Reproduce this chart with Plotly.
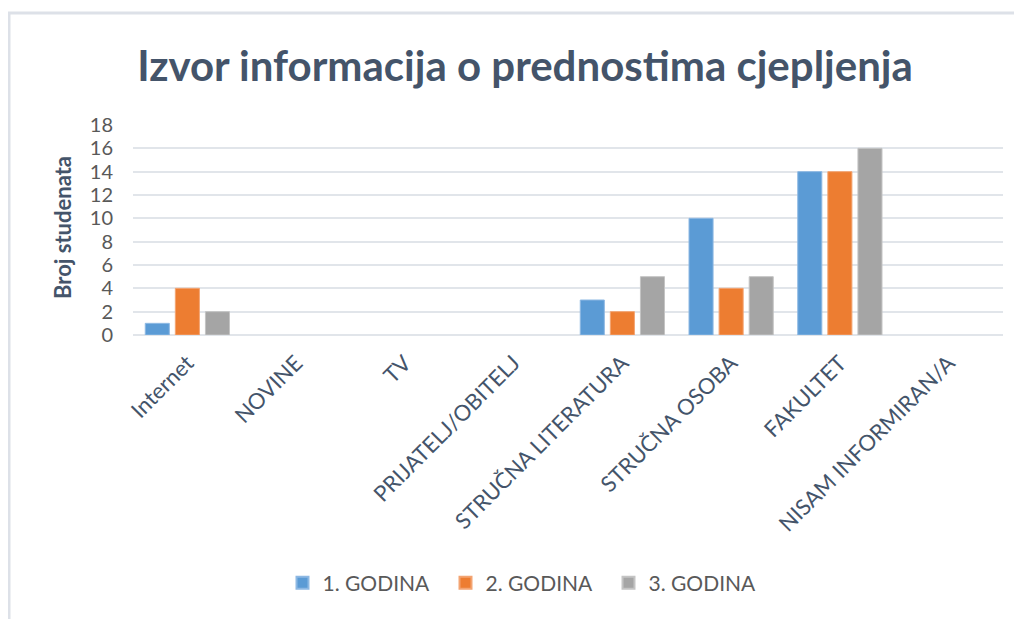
import plotly.graph_objects as go

categories = ["Internet", "NOVINE", "TV", "PRIJATELJ/OBITELJ", "STRUČNA LITERATURA",
              "STRUČNA OSOBA", "FAKULTET", "NISAM INFORMIRAN/A"]
godina1 = [1, 0, 0, 0, 3, 10, 14, 0]
godina2 = [4, 0, 0, 0, 2, 4, 14, 0]
godina3 = [2, 0, 0, 0, 5, 5, 16, 0]
series_names = ["1. GODINA", "2. GODINA", "3. GODINA"]
colors = ["#5B9BD5", "#ED7D31", "#A5A5A5"]
edge_colors = ["#8DB8E3", "#F3A472", "#C4C4C4"]
y_ticks = [0, 2, 4, 6, 8, 10, 12, 14, 16, 18]

# page body has an 8px default margin; positions below are screen pixels
OFF = 8
W, H = 1022, 619
L, R, T, B = 133 - OFF, 1003 - OFF, 125 - OFF, 335 - OFF

def px_x(p):
    return (p - OFF - L) / (R - L)

def px_y(p):
    return (B - (p - OFF)) / (B - T)

font_family = "Lato, 'Open Sans', sans-serif"
dark = "#44546A"
gray = "#595959"

fig = go.Figure()
for name, vals, c, ec in zip(series_names, [godina1, godina2, godina3], colors, edge_colors):
    fig.add_trace(go.Bar(
        x=categories, y=vals, name=name,
        marker=dict(color=c, line=dict(color=ec, width=[1 if v > 0 else 0 for v in vals])),
    ))

fig.update_layout(
    width=W, height=H,
    margin=dict(l=L, r=W - R, t=T, b=H - B, autoexpand=False),
    paper_bgcolor="white", plot_bgcolor="white",
    barmode="group", bargap=0.17, bargroupgap=0.2,
    title=dict(text="<b>Izvor informacija o prednostima cjepljenja</b>",
               x=(525 - OFF) / W, xanchor="center", y=1 - (66 - OFF) / H, yanchor="middle",
               xref="container", yref="container",
               font=dict(family=font_family, size=42, color=dark)),
    font=dict(family=font_family, color=gray),
    showlegend=True,
    legend=dict(orientation="h", x=px_x(527), xanchor="center", y=px_y(583), yanchor="middle",
                font=dict(size=21, color=gray), itemwidth=30, itemsizing="constant",
                entrywidth=118, entrywidthmode="pixels", traceorder="normal"),
    xaxis=dict(tickangle=-45, tickfont=dict(size=22, color=dark), showgrid=False,
               showline=False, ticks="", ticklabelstandoff=10, automargin=False),
    yaxis=dict(range=[0, 18], tickvals=y_ticks, tickfont=dict(size=20, color=gray),
               showgrid=True, gridcolor="#E1E5EA", gridwidth=1.5,
               zeroline=True, zerolinecolor="#E1E5EA", zerolinewidth=1.5,
               showline=False, ticks="", ticklabelstandoff=19, automargin=False),
    annotations=[dict(text="<b>Broj studenata</b>", x=px_x(62), y=px_y(228),
                      xref="paper", yref="paper", xanchor="center", yanchor="middle",
                      textangle=-90, showarrow=False,
                      font=dict(family=font_family, size=22, color=dark))],
    shapes=[dict(type="path", xref="paper", yref="paper",
                 path=f"M {px_x(9)} {px_y(H + 20)} L {px_x(9)} {px_y(13)} L {px_x(W + 20)} {px_y(13)}",
                 line=dict(color="#DDE1E8", width=3))],
)

fig.write_html("out.html")
